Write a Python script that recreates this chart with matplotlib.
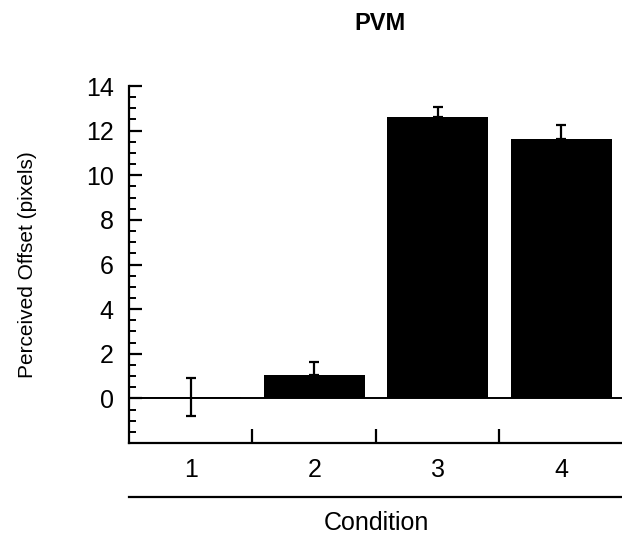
import numpy as np
import matplotlib.pyplot as plt
from matplotlib.ticker import MultipleLocator

plt.rcParams['font.family'] = ['Liberation Sans', 'DejaVu Sans']

# Mean perceived offset per condition, with error bars
conditions = ["1", "2", "3", "4"]
offsets = [0.05, 1.03, 12.6, 11.63]
errors = [0.85, 0.6, 0.47, 0.64]

fig = plt.figure(figsize=(6.22, 5.36), dpi=100)
ax = fig.add_axes([129 / 622, 93 / 536, 494 / 622, 357 / 536])

x = np.arange(1, len(conditions) + 1)
ax.bar(x, offsets, width=0.82, color="black", zorder=2)
# first condition shows a full error bar, the rest only the upper half
ax.errorbar(x[:1], offsets[:1], yerr=errors[:1], fmt="none", ecolor="black",
            elinewidth=1.6, capsize=3.7, capthick=1.6, zorder=3)
ax.errorbar(x[1:], offsets[1:], yerr=[np.zeros(3), errors[1:]], fmt="none",
            ecolor="black", elinewidth=1.6, capsize=3.7, capthick=1.6, zorder=3)
ax.axhline(0, color="black", lw=1.4, zorder=1)

ax.set_xlim(0.5, 4.5)
ax.set_ylim(-2, 14)
ax.spines["top"].set_visible(False)
ax.spines["right"].set_visible(False)
ax.spines["left"].set_linewidth(1.6)
ax.spines["bottom"].set_linewidth(1.6)

ax.yaxis.set_major_locator(MultipleLocator(2))
ax.yaxis.set_minor_locator(MultipleLocator(0.5))
ax.set_yticks(np.arange(0, 15, 2))
ax.tick_params(axis="y", which="major", direction="in", length=9, width=1.6,
               labelsize=18, pad=11)
ax.tick_params(axis="y", which="minor", direction="in", length=5, width=1.4)

# category separators on the x axis, labels centered between them
ax.set_xticks([1.5, 2.5, 3.5])
ax.set_xticklabels([])
ax.tick_params(axis="x", which="major", direction="in", length=10, width=1.6)
for xi, lab in zip(x, conditions):
    ax.text(xi, -3.2, lab, ha="center", va="center", fontsize=18)
ax.plot([0.5, 4.5], [-4.4, -4.4], color="black", lw=1.6, clip_on=False)
ax.text(2.5, -5.6, "Condition", ha="center", va="center", fontsize=18)

ax.set_ylabel("Perceived Offset (pixels)", fontsize=15)
ax.yaxis.set_label_coords(-0.186, 0.5)
fig.text(380 / 622, 1 - 24 / 536, "PVM", ha="center", va="center",
         fontsize=17, fontweight="bold")

fig.savefig("out.png", dpi=100)
